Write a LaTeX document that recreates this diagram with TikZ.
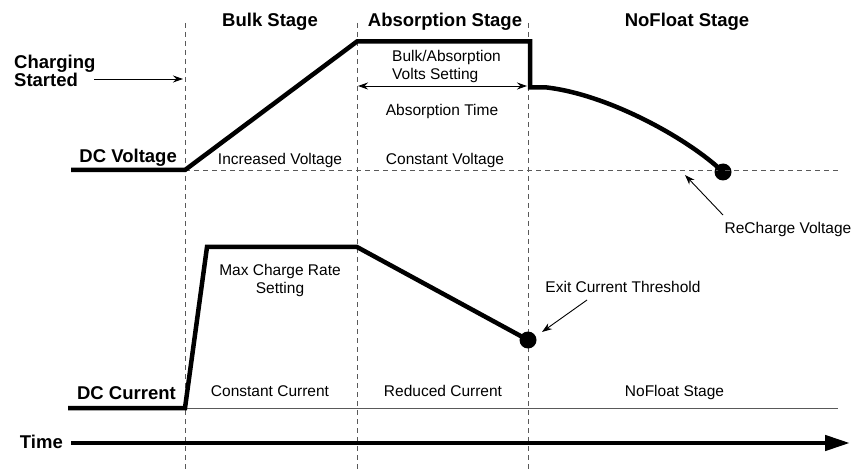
\documentclass[tikz,border=0pt]{standalone}
\usepackage{fontspec}
\setmainfont{Liberation Sans}
\usetikzlibrary{arrows.meta}

\begin{document}
\begin{tikzpicture}[x=1pt, y=-1pt,
    etapa/.style={font=\fontsize{18.5}{17}\selectfont\bfseries, inner sep=0pt},
    nota/.style={font=\fontsize{15.5}{18}\selectfont, inner sep=0pt},
    senal/.style={line width=4.5pt},
    guia/.style={gray!70!black, line width=0.9pt, dash pattern=on 5pt off 4pt},
    punto/.style={circle, fill, inner sep=0pt, minimum size=17pt},
    flecha/.style={line width=0.9pt, -{Stealth[length=10pt, width=7pt]}},
    doble/.style={line width=0.9pt, {Stealth[length=10pt, width=7pt]}-{Stealth[length=10pt, width=7pt]}}]

    \useasboundingbox (0,0) rectangle (856,470);

    % Limites de las etapas
    \coordinate (b1) at (185,23);  \coordinate (b1f) at (185,470);
    \coordinate (b2) at (357,23);  \coordinate (b2f) at (357,470);
    \coordinate (b3) at (528,23);  \coordinate (b3f) at (528,470);
    \draw[guia] (b1) -- (b1f);
    \draw[guia] (b2) -- (b2f);
    \draw[guia] (b3) -- (b3f);

    % Titulos de las etapas
    \node[etapa, anchor=base] (bulk) at (270,27) {Bulk Stage};
    \node[etapa, anchor=base] (absorcion) at (445,27) {Absorption Stage};
    \node[etapa, anchor=base] (nofloat) at (687,27) {NoFloat Stage};

    % Tension
    \coordinate (v0) at (71,170);
    \coordinate (v1) at (185,170);
    \coordinate (v2) at (357,41.5);
    \coordinate (v3) at (530,41.5);
    \coordinate (v4) at (530,87.5);
    \coordinate (v5) at (547,87.5);
    \coordinate (vfin) at (838,170);
    \node[punto] (recarga) at (723,172) {};
    \draw[guia] (v1) -- (vfin);
    \draw[senal] (v0) -- (v1) -- (v2) -- (v3) -- (v4) -- (v5)
        .. controls (610,95) and (690,140) .. (recarga.center);

    \node[etapa, anchor=base east] (dcv) at (177,163) {DC Voltage};
    \node[etapa, anchor=north west, align=left] (cargando) at (14,54.5) {Charging\\Started};
    \coordinate (c0) at (94,79);  \coordinate (c1) at (183,79);
    \draw[flecha] (c0) -- (c1);

    \node[nota, anchor=north west, align=left] (ajuste) at (392,50.5) {Bulk/Absorption\\Volts Setting};
    \coordinate (t0) at (358,86);  \coordinate (t1) at (527,86);
    \draw[doble] (t0) -- (t1);
    \node[nota, anchor=base] (tabs) at (442,116) {Absorption Time};
    \node[nota, anchor=base] (vinc) at (280,165) {Increased Voltage};
    \node[nota, anchor=base] (vcte) at (445,165) {Constant Voltage};
    \node[nota, anchor=base] (vrec) at (788,234) {ReCharge Voltage};
    \coordinate (r0) at (723,215);  \coordinate (r1) at (685,175);
    \draw[flecha] (r0) -- (r1);

    % Corriente
    \coordinate (i0) at (68,408);
    \coordinate (i1) at (185,408);
    \coordinate (i2) at (207,247);
    \coordinate (i3) at (357,247);
    \coordinate (ifin) at (838,408);
    \node[punto] (umbral) at (528,340) {};
    \draw[gray!70!black, line width=1pt] (i1) -- (ifin);
    \draw[senal] (i0) -- (i1) -- (i2) -- (i3) -- (umbral.center);

    \node[etapa, anchor=base east] (dci) at (176,399) {DC Current};
    \node[nota, anchor=north, align=center] (maxcarga) at (280,264) {Max Charge Rate\\Setting};
    \node[nota, anchor=base] (icte) at (270,396) {Constant Current};
    \node[nota, anchor=base] (ired) at (443,396) {Reduced Current};
    \node[nota, anchor=base] (inf) at (674.5,396) {NoFloat Stage};
    \node[nota, anchor=base] (salida) at (623,292) {Exit Current Threshold};
    \coordinate (e0) at (587,300);  \coordinate (e1) at (542,332);
    \draw[flecha] (e0) -- (e1);

    % Tiempo
    \node[etapa, anchor=base east] (tiempo) at (63,448) {Time};
    \coordinate (tt0) at (71,443);  \coordinate (tt1) at (850,443);
    \draw[senal, -{Triangle[length=25pt, width=15pt]}] (tt0) -- (tt1);
\end{tikzpicture}
\end{document}
